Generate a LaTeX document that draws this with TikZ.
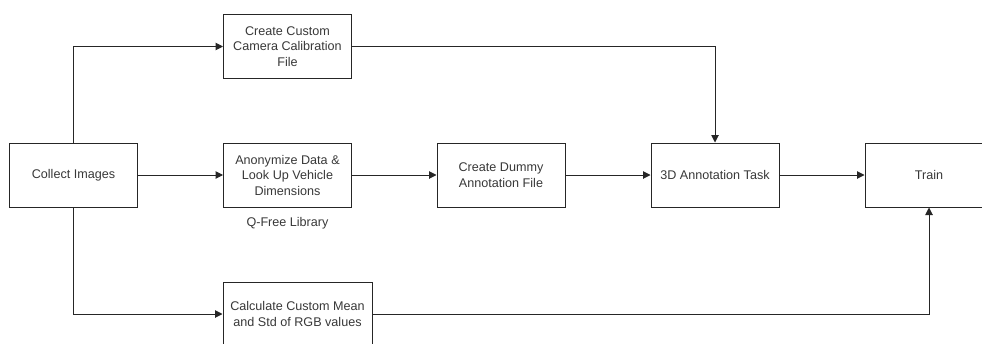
\documentclass[tikz,border=0pt]{standalone}
\usepackage{fontspec}
\setmainfont{Liberation Sans}
\usetikzlibrary{arrows.meta}
\tikzset{
	procbox/.style={draw=black!85, line width=1pt, minimum width=128pt, minimum height=64pt,
		inner sep=0pt, align=center, text=black!78, font=\fontsize{12.6}{15.5}\selectfont},
	flow/.style={draw=black!85, line width=1pt, -{Triangle[length=7.5pt,width=7.5pt]}},
}

\begin{document}
\begin{tikzpicture}[x=1pt, y=-1pt]
		%%%%% START %%%%%
		
		\useasboundingbox (0, 0) rectangle (982, 343);
		\clip (0, 0) rectangle (982, 343);
		
		\node[procbox] (collect) at (73.5, 175) {Collect Images};
		\node[procbox] (camera) at (287.5, 46.5) {Create Custom\\Camera Calibration\\File};
		\node[procbox] (anon) at (287.5, 175) {Anonymize Data \&\\Look Up Vehicle\\Dimensions};
		\node[text=black!78, font=\fontsize{12.6}{15.5}\selectfont] (qfree) at (287.5, 223) {Q-Free Library};
		\node[procbox] (dummy) at (501, 175) {Create Dummy\\Annotation File};
		\node[procbox] (task) at (715, 175) {3D Annotation Task};
		\node[procbox] (train) at (929, 175) {Train};
		\node[procbox, minimum width=149pt] (calc) at (297.5, 314) {Calculate Custom Mean\\and Std of RGB values};
		
		\draw[flow] (collect.north) |- (camera.west);
		\draw[flow] (collect.east) -- (anon.west);
		\draw[flow] (collect.south) |- (calc.west);
		
		\draw[flow] (anon.east) -- (dummy.west);
		\draw[flow] (dummy.east) -- (task.west);
		\draw[flow] (task.east) -- (train.west);
		
		\draw[flow] (camera.east) -| (task.north);
		\draw[flow] (calc.east) -| (train.south);
		
		%%%%% END %%%%%
	\end{tikzpicture}
\end{document}
